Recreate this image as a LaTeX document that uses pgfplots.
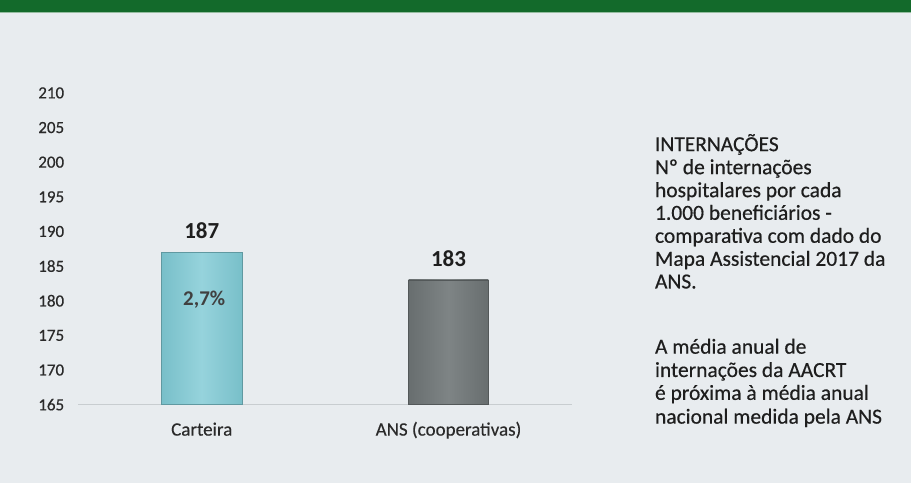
\documentclass[border=0pt]{standalone}
\usepackage{pgfplots}
\pgfplotsset{compat=1.18}
\usepackage{fontspec}
\setmainfont{Carlito}
\newfontfamily\semib{Carlito}[FakeBold=0.5]
\newfontfamily\semibb{Carlito}[FakeBold=0.35]
\definecolor{bg}{HTML}{E8ECEF}
\definecolor{topgreen}{HTML}{136A2B}
\definecolor{axgray}{HTML}{C8CDD0}
\definecolor{txt}{HTML}{1E1E1E}
\definecolor{tick}{HTML}{2A2A2A}
\definecolor{cyanL}{HTML}{96D3DC}
\definecolor{cyanD}{HTML}{78BFC9}
\definecolor{grayL}{HTML}{7E8485}
\definecolor{grayD}{HTML}{686E6F}
\begin{document}
\begin{tikzpicture}[x=1pt,y=1pt]
\fill[bg] (0,0) rectangle (911,483);
\fill[topgreen] (0,471) rectangle (911,483);
\draw[topgreen!45!white, line width=0.8pt] (0,470.6) -- (911,470.6);
\begin{axis}[
  at={(78pt,78pt)}, anchor=south west,
  scale only axis, width=494pt, height=312pt,
  xmin=-0.5, xmax=1.5, ymin=165, ymax=210,
  ytick={165,170,...,210},
  xtick={0,1},
  xticklabels={Carteira, ANS (cooperativas)},
  /pgf/number format/assume math mode=true,
  axis x line*=bottom, axis y line*=left,
  x axis line style={draw=axgray, line width=1.5pt, -},
  y axis line style={draw=none},
  major tick length=0pt, tick style={draw=none},
  yticklabel style={font=\semib\fontsize{17}{17}\selectfont, text=tick, anchor=east, inner sep=0pt, xshift=-14pt},
  xticklabel style={font=\semibb\fontsize{19}{19}\selectfont, text=tick, anchor=base, inner sep=0pt, yshift=-31pt},
  clip=false,
]
\addplot[ybar, bar width=81pt, bar shift=0pt, draw=cyanD!80!black, line width=0.3pt,
  left color=cyanD, right color=cyanD, middle color=cyanL,
  nodes near coords,
  nodes near coords style={font=\fontsize{23}{23}\bfseries\selectfont, text=txt, anchor=south, inner sep=0pt, yshift=13pt}]
  coordinates {(0,187)};
\addplot[ybar, bar width=80pt, bar shift=0pt, draw=grayD!80!black, line width=0.3pt,
  left color=grayD, right color=grayD, middle color=grayL,
  nodes near coords,
  nodes near coords style={font=\fontsize{23}{23}\bfseries\selectfont, text=txt, anchor=south, inner sep=0pt, yshift=13pt}]
  coordinates {(1,183)};
\node[font=\fontsize{21}{21}\bfseries\selectfont, text=black!75, inner sep=0pt] at (axis cs:0.01,180.1) {2,7\%};
\end{axis}
\begin{scope}[every node/.style={anchor=base west, inner sep=0pt, font=\semib\fontsize{21.5}{21.5}\selectfont, text=txt}]
\node at (655,331.7) {INTERNAÇÕES};
\node at (655,308.7) {Nº de internações};
\node at (655,285.7) {hospitalares por cada};
\node at (655,263) {1.000 beneficiários -};
\node at (655,240) {comparativa com dado do};
\node at (655,217) {Mapa Assistencial 2017 da};
\node at (655,194.3) {ANS.};
\end{scope}
\begin{scope}[every node/.style={anchor=base west, inner sep=0pt, font=\semibb\fontsize{21.5}{21.5}\selectfont, text=txt}]
\node at (655,129) {A média anual de};
\node at (655,105.7) {internações da AACRT};
\node at (655,82.8) {é próxima à média anual};
\node at (655,59) {nacional medida pela ANS};
\end{scope}
\end{tikzpicture}
\end{document}
